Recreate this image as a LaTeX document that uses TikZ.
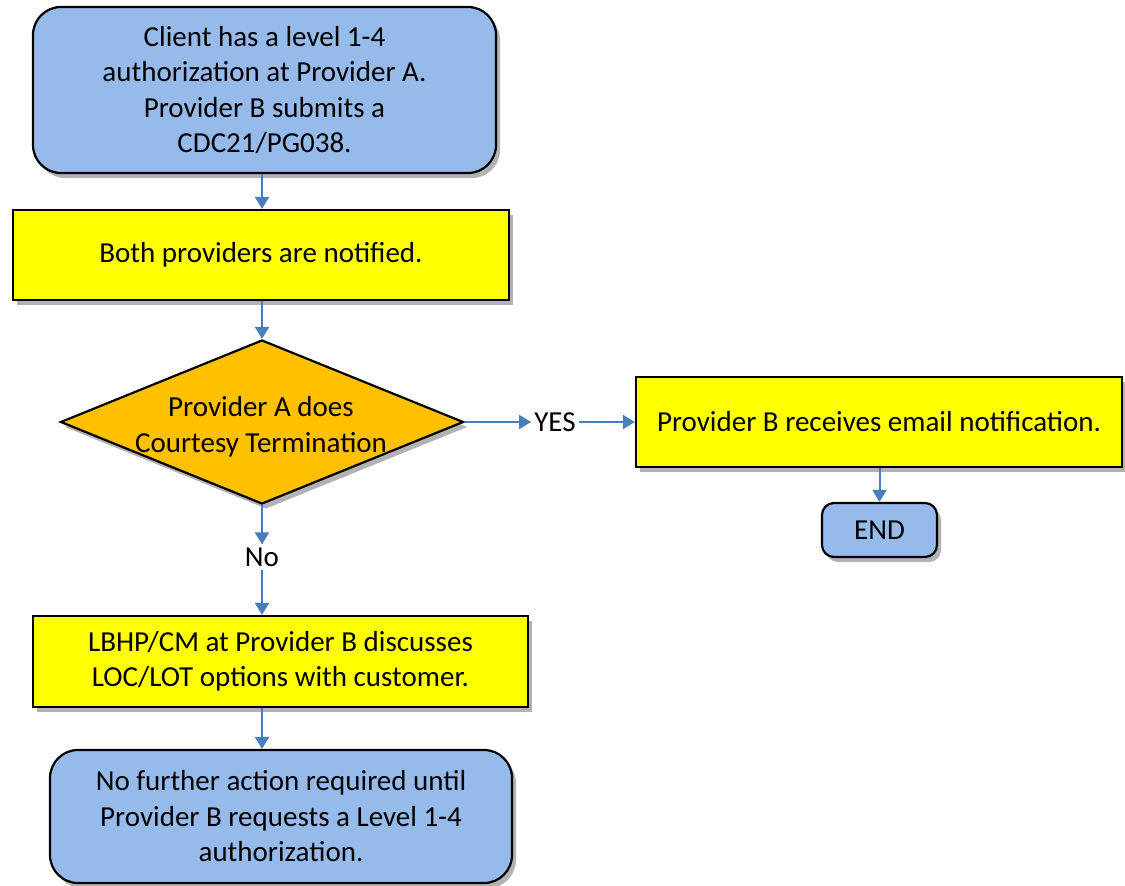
\documentclass[tikz,border=0pt]{standalone}
\usepackage{fontspec}
\setmainfont{Carlito}
\usetikzlibrary{shapes.geometric,shadows,arrows.meta}
\definecolor{boxblue}{HTML}{96BBEB}
\definecolor{boxyellow}{HTML}{FFFF00}
\definecolor{gold}{HTML}{FFC000}
\definecolor{arrowblue}{HTML}{4A7EBB}
\tikzset{
  base/.style={draw=black, line width=2.2pt, align=center, inner sep=0pt,
    font=\fontsize{29}{35.5}\selectfont,
    drop shadow={shadow xshift=4pt, shadow yshift=-5pt, fill=black, opacity=0.3}},
  bluebox/.style={base, fill=boxblue, rounded corners=28pt},
  yellowbox/.style={base, fill=boxyellow},
  decision/.style={base, fill=gold, shape=diamond},
  lbl/.style={font=\fontsize{29}{35.5}\selectfont, inner sep=3pt},
  flow/.style={draw=arrowblue, line width=2pt, -{Triangle[width=14pt,length=12pt]}}
}
\begin{document}
\begin{tikzpicture}[x=1pt,y=-1pt]
\useasboundingbox (0,0) rectangle (1125,886);
\node[bluebox, minimum width=463pt, minimum height=166pt] (start) at (264.5,90)
  {Client has a level 1-4\\authorization at Provider A.\\Provider B submits a\\CDC21/PG038.};
\node[yellowbox, minimum width=496pt, minimum height=90pt] (notify) at (261,255)
  {Both providers are notified.};
\node[decision, minimum width=403pt, minimum height=164pt] (dec) at (262,422) {};
\node[lbl, align=center] (dectext) at (261,427) {Provider A does\\Courtesy Termination};
\node[lbl] (yes) at (555,422) {YES};
\node[yellowbox, minimum width=486pt, minimum height=90pt] (email) at (879,422)
  {Provider B receives email notification.};
\node[bluebox, rounded corners=12pt, minimum width=115pt, minimum height=54pt] (end) at (879.5,530) {END};
\node[lbl] (no) at (262,557) {No};
\node[yellowbox, minimum width=495pt, minimum height=91pt] (lbhp) at (280.5,661.5)
  {LBHP/CM at Provider B discusses\\LOC/LOT options with customer.};
\node[bluebox, minimum width=462pt, minimum height=133pt] (final) at (281,816.5)
  {No further action required until\\Provider B requests a Level 1-4\\authorization.};
\draw[flow] (start.south -| dec.north) -- (notify.north -| dec.north);
\draw[flow] (notify.south -| dec.north) -- (dec.north);
\draw[flow] (dec.east) -- (yes.west);
\draw[flow] (yes.east) -- (email.west);
\draw[flow] (email.south -| end.north) -- (end.north);
\draw[flow] (dec.south) -- (no.north);
\draw[flow] (no.south) -- (lbhp.north -| no.south);
\draw[flow] (lbhp.south -| dec.north) -- (final.north -| dec.north);
\end{tikzpicture}
\end{document}
